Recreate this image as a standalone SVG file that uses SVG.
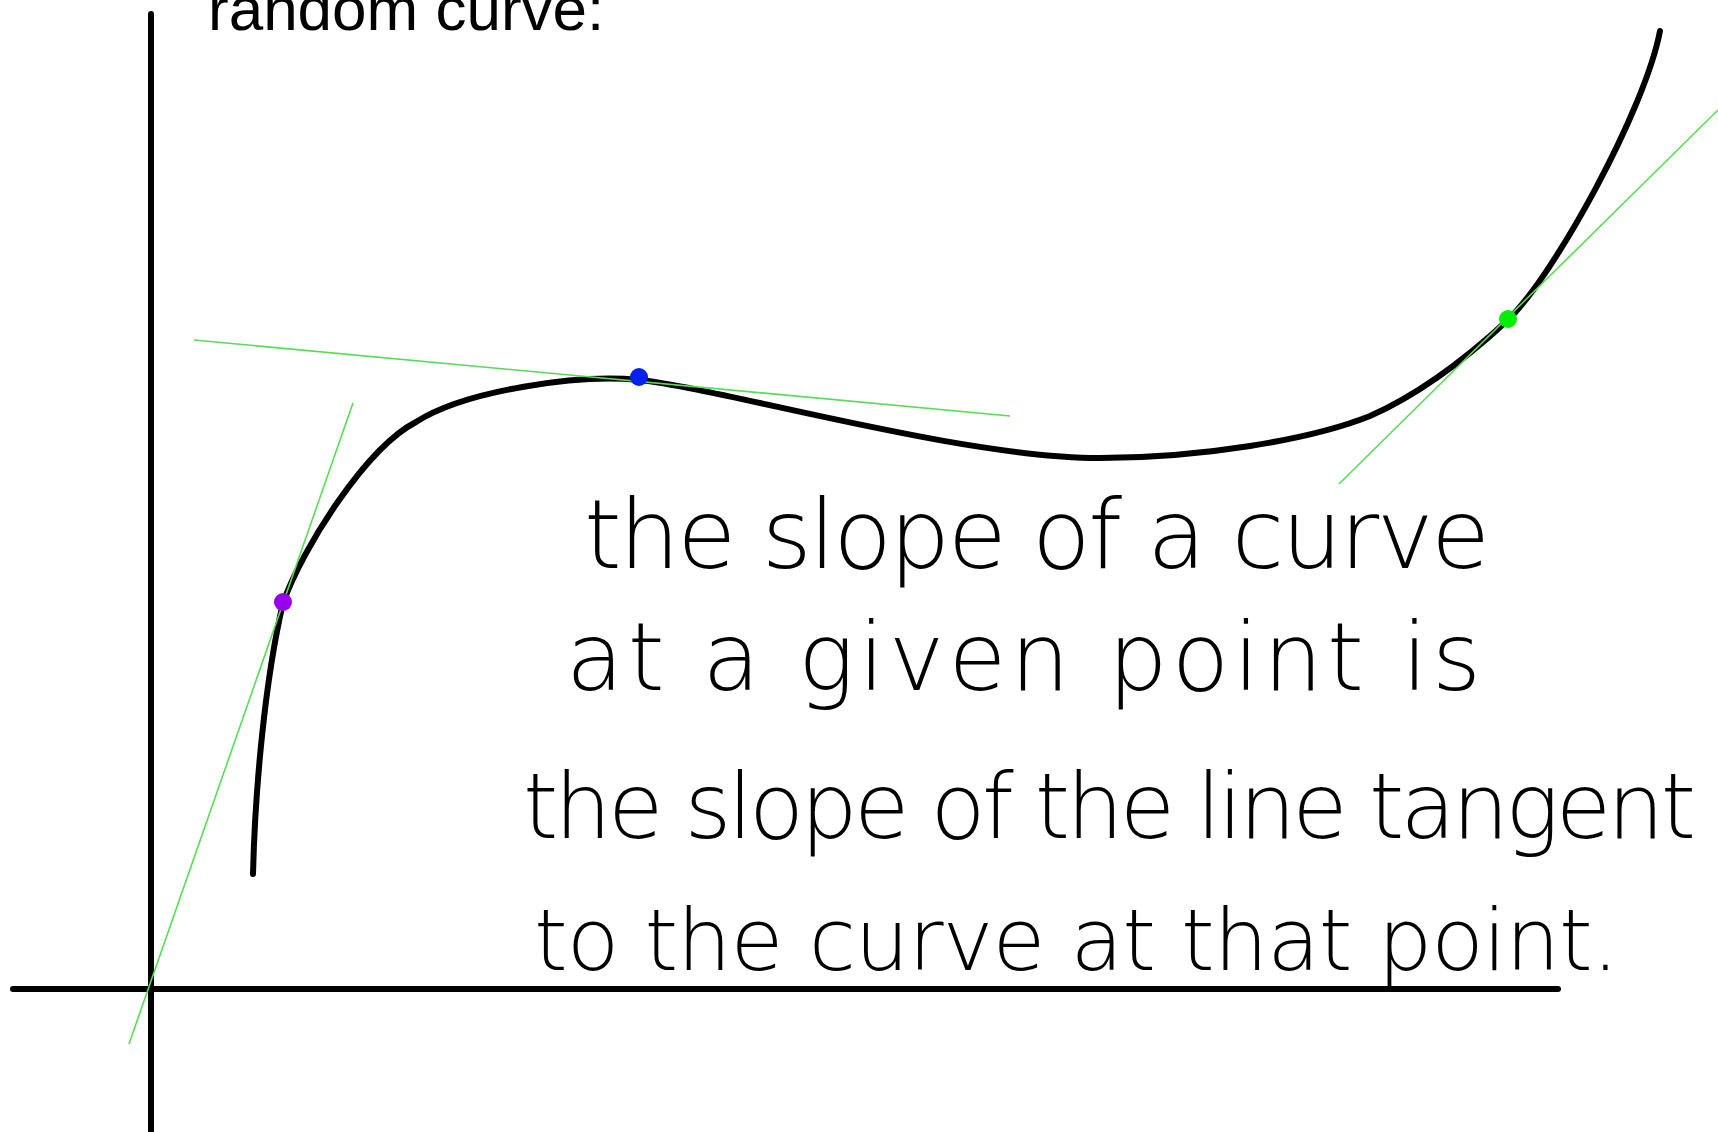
<svg xmlns="http://www.w3.org/2000/svg" width="1718" height="1132" viewBox="0 0 1718 1132">
<style>
.axis{stroke:#000;stroke-width:6;stroke-linecap:round;fill:none}
.curve{stroke:#000;stroke-width:6;stroke-linecap:round;stroke-linejoin:round;fill:none}
.tan{stroke:#55dd55;stroke-width:1.6;fill:none}
.hand{font-family:"DejaVu Sans",sans-serif;font-weight:200;fill:#000}
.title{font-family:"Liberation Sans",Arial,sans-serif;font-size:62px;fill:#000}
</style>
<rect width="1718" height="1132" fill="#fff"/>
<g id="axes">
<line class="axis" x1="151" y1="14" x2="151" y2="1132"/>
<line class="axis" x1="13" y1="989" x2="1558" y2="989"/>
</g>
<text class="title" x="208" y="30">random curve:</text>
<g id="curve">
<path class="curve" d="M253,874 C255,790 265,680 283,603 C303,547 366,448 416,422 C466,390 579,374 639,380 C720,388 960,458 1100,458 C1200,458 1310,440 1370,416 C1420,394 1470,355 1508,320 C1555,274 1645,110 1660,31"/>
</g>
<g id="tangents">
<line class="tan" x1="129" y1="1044" x2="353" y2="403"/>
<line class="tan" x1="194" y1="340" x2="1010" y2="416"/>
<line class="tan" x1="1339" y1="484" x2="1718" y2="110"/>
</g>
<g id="points">
<circle cx="283" cy="602" r="9" fill="#9900ee"/>
<circle cx="639" cy="377" r="9" fill="#0022ee"/>
<circle cx="1508" cy="319" r="9" fill="#00ee00"/>
</g>
<g id="note">
<text class="hand" x="584" y="568" font-size="96" textLength="906" lengthAdjust="spacing">the slope of a curve</text>
<text class="hand" x="566" y="690" font-size="94" textLength="915" lengthAdjust="spacing">at a given point is</text>
<text class="hand" x="523" y="838" font-size="90" textLength="1173" lengthAdjust="spacing">the slope of the line tangent</text>
<text class="hand" x="534" y="970" font-size="86" textLength="1085" lengthAdjust="spacing">to the curve at that point.</text>
</g>
</svg>
